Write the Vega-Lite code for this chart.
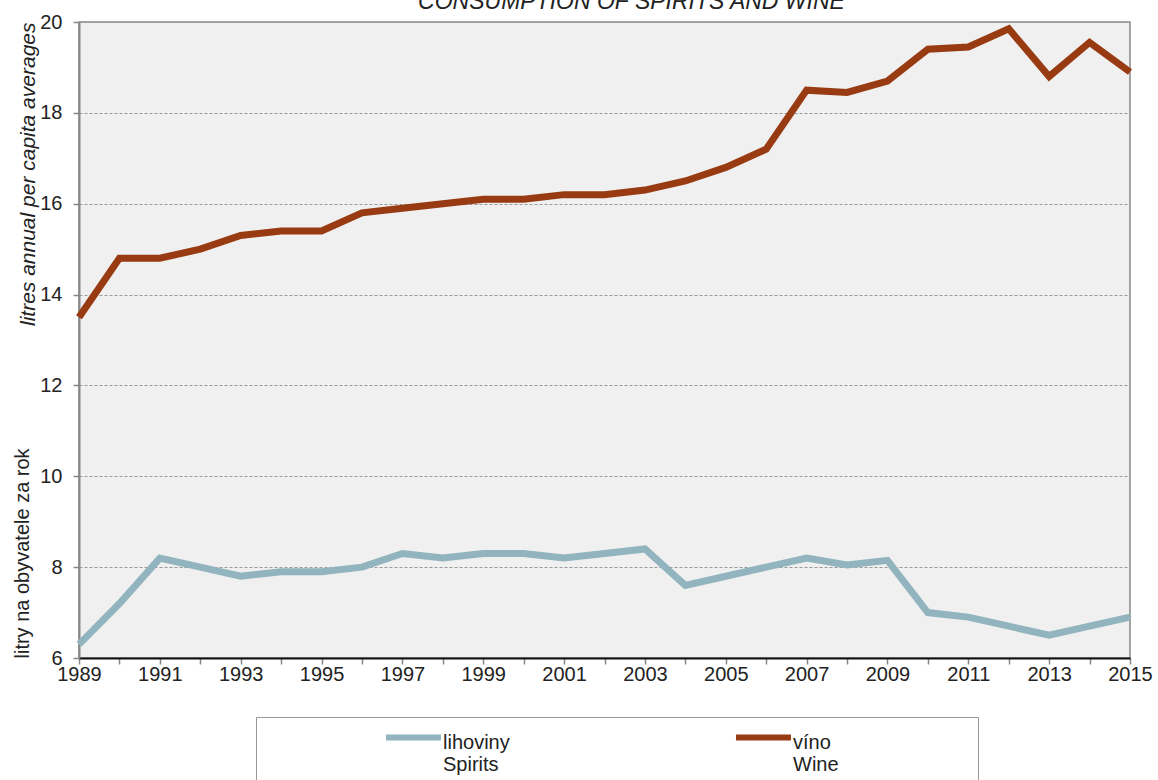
{
  "$schema": "https://vega.github.io/schema/vega-lite/v6.json",
  "width": 1051,
  "height": 636,
  "autosize": {"type": "none"},
  "padding": {"left": 79, "top": 22, "right": 28, "bottom": 122},
  "background": "white",
  "title": {
    "text": "CONSUMPTION OF SPIRITS AND WINE",
    "font": "Liberation Sans",
    "fontSize": 23,
    "fontStyle": "italic",
    "fontWeight": "normal",
    "color": "#222",
    "anchor": "middle",
    "baseline": "alphabetic",
    "offset": 15,
    "dx": 27,
    "dy": 35
  },
  "config": {
    "font": "Liberation Sans",
    "view": {"stroke": "#888", "strokeWidth": 1.5, "fill": "#f0f0f0"},
    "legend": {
      "orient": "none",
      "legendX": 177,
      "legendY": 695,
      "direction": "horizontal",
      "columns": 2,
      "columnPadding": 213,
      "padding": 12,
      "strokeColor": "#999",
      "fillColor": "white",
      "symbolType": "M-3.73,-0.5H1.27",
      "symbolSize": 484,
      "symbolStrokeWidth": 6,
      "labelFont": "Liberation Sans",
      "labelFontSize": 20,
      "labelLineHeight": 22,
      "labelColor": "#222",
      "labelBaseline": "middle",
      "labelOffset": 2,
      "labelLimit": 400,
      "titleOrient": "left",
      "titleFontSize": 4,
      "titlePadding": 145
    }
  },
  "data": {
    "values": [
      {"year": 1989, "series": "lihoviny", "value": 6.3},
      {"year": 1990, "series": "lihoviny", "value": 7.2},
      {"year": 1991, "series": "lihoviny", "value": 8.2},
      {"year": 1992, "series": "lihoviny", "value": 8.0},
      {"year": 1993, "series": "lihoviny", "value": 7.8},
      {"year": 1994, "series": "lihoviny", "value": 7.9},
      {"year": 1995, "series": "lihoviny", "value": 7.9},
      {"year": 1996, "series": "lihoviny", "value": 8.0},
      {"year": 1997, "series": "lihoviny", "value": 8.3},
      {"year": 1998, "series": "lihoviny", "value": 8.2},
      {"year": 1999, "series": "lihoviny", "value": 8.3},
      {"year": 2000, "series": "lihoviny", "value": 8.3},
      {"year": 2001, "series": "lihoviny", "value": 8.2},
      {"year": 2002, "series": "lihoviny", "value": 8.3},
      {"year": 2003, "series": "lihoviny", "value": 8.4},
      {"year": 2004, "series": "lihoviny", "value": 7.6},
      {"year": 2005, "series": "lihoviny", "value": 7.8},
      {"year": 2006, "series": "lihoviny", "value": 8.0},
      {"year": 2007, "series": "lihoviny", "value": 8.2},
      {"year": 2008, "series": "lihoviny", "value": 8.05},
      {"year": 2009, "series": "lihoviny", "value": 8.15},
      {"year": 2010, "series": "lihoviny", "value": 7.0},
      {"year": 2011, "series": "lihoviny", "value": 6.9},
      {"year": 2012, "series": "lihoviny", "value": 6.7},
      {"year": 2013, "series": "lihoviny", "value": 6.5},
      {"year": 2014, "series": "lihoviny", "value": 6.7},
      {"year": 2015, "series": "lihoviny", "value": 6.9},
      {"year": 1989, "series": "víno", "value": 13.5},
      {"year": 1990, "series": "víno", "value": 14.8},
      {"year": 1991, "series": "víno", "value": 14.8},
      {"year": 1992, "series": "víno", "value": 15.0},
      {"year": 1993, "series": "víno", "value": 15.3},
      {"year": 1994, "series": "víno", "value": 15.4},
      {"year": 1995, "series": "víno", "value": 15.4},
      {"year": 1996, "series": "víno", "value": 15.8},
      {"year": 1997, "series": "víno", "value": 15.9},
      {"year": 1998, "series": "víno", "value": 16.0},
      {"year": 1999, "series": "víno", "value": 16.1},
      {"year": 2000, "series": "víno", "value": 16.1},
      {"year": 2001, "series": "víno", "value": 16.2},
      {"year": 2002, "series": "víno", "value": 16.2},
      {"year": 2003, "series": "víno", "value": 16.3},
      {"year": 2004, "series": "víno", "value": 16.5},
      {"year": 2005, "series": "víno", "value": 16.8},
      {"year": 2006, "series": "víno", "value": 17.2},
      {"year": 2007, "series": "víno", "value": 18.5},
      {"year": 2008, "series": "víno", "value": 18.45},
      {"year": 2009, "series": "víno", "value": 18.7},
      {"year": 2010, "series": "víno", "value": 19.4},
      {"year": 2011, "series": "víno", "value": 19.45},
      {"year": 2012, "series": "víno", "value": 19.85},
      {"year": 2013, "series": "víno", "value": 18.8},
      {"year": 2014, "series": "víno", "value": 19.55},
      {"year": 2015, "series": "víno", "value": 18.9}
    ]
  },
  "encoding": {
    "x": {
      "field": "year",
      "type": "quantitative",
      "scale": {"domain": [1989, 2015], "nice": false, "zero": false},
      "axis": {
        "title": null,
        "values": [1989, 1990, 1991, 1992, 1993, 1994, 1995, 1996, 1997, 1998, 1999, 2000, 2001, 2002, 2003, 2004, 2005, 2006, 2007, 2008, 2009, 2010, 2011, 2012, 2013, 2014, 2015],
        "format": "d",
        "labelExpr": "datum.value % 2 == 1 ? datum.label : ''",
        "labelFlush": false,
        "labelOverlap": false,
        "grid": false,
        "domainColor": "#111",
        "domainWidth": 2,
        "tickColor": "#888",
        "tickSize": 6,
        "tickWidth": 1.5,
        "labelFont": "Liberation Sans",
        "labelFontSize": 20,
        "labelColor": "#222",
        "labelPadding": 0
      }
    },
    "color": {
      "field": "series",
      "type": "nominal",
      "scale": {"domain": ["lihoviny", "víno"], "range": ["#92b4be", "#983b12"]},
      "legend": {
        "title": "\u00a0",
        "labelExpr": "datum.label == 'lihoviny' ? ['lihoviny', 'Spirits'] : ['víno\u2800\u2800\u2800\u2800\u2800\u2800\u2800\u2800\u2800', 'Wine']"
      }
    }
  },
  "layer": [
    {
      "transform": [{"filter": "datum.series == 'lihoviny'"}],
      "mark": {"type": "line", "strokeWidth": 7},
      "encoding": {
        "y": {
          "field": "value",
          "type": "quantitative",
          "scale": {"domain": [6, 20], "nice": false, "zero": false},
          "axis": {
            "values": [6, 8, 10, 12, 14, 16, 18, 20],
            "grid": true,
            "gridColor": "#999",
            "gridDash": [3, 2],
            "gridWidth": 1,
            "domainColor": "#888",
            "domainWidth": 2,
            "tickColor": "#888",
            "tickSize": 6,
            "tickWidth": 1.5,
            "labelFont": "Liberation Sans",
            "labelFontSize": 20,
            "labelColor": "#222",
            "labelPadding": 11,
            "title": "litres annual per capita averages",
            "titleFont": "Liberation Sans",
            "titleFontSize": 21,
            "titleFontStyle": "italic",
            "titleFontWeight": "normal",
            "titleColor": "#222",
            "titleAnchor": "end",
            "titlePadding": 1
          }
        }
      }
    },
    {
      "transform": [{"filter": "datum.series == 'víno'"}],
      "mark": {"type": "line", "strokeWidth": 7},
      "encoding": {
        "y": {
          "field": "value",
          "type": "quantitative",
          "scale": {"domain": [6, 20], "nice": false, "zero": false},
          "axis": {
            "orient": "left",
            "domain": false,
            "ticks": false,
            "labels": false,
            "grid": false,
            "title": "litry na obyvatele za rok",
            "titleFont": "Liberation Sans",
            "titleFontSize": 20,
            "titleFontWeight": "normal",
            "titleColor": "#222",
            "titleAnchor": "start",
            "titlePadding": 47
          }
        }
      }
    }
  ],
  "resolve": {"axis": {"y": "independent"}}
}
